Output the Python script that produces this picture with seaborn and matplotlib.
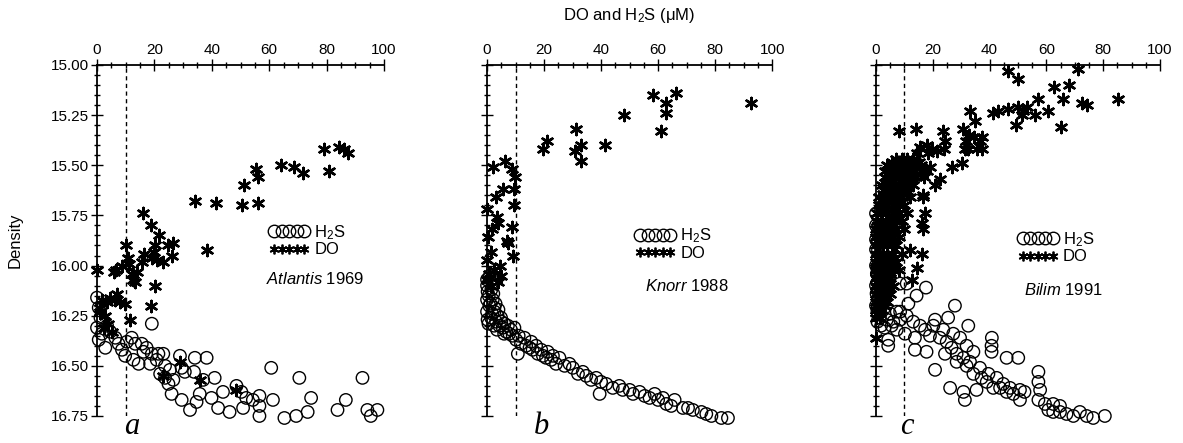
import matplotlib
matplotlib.use("Agg")
import matplotlib.pyplot as plt
from matplotlib.lines import Line2D
from matplotlib.ticker import MultipleLocator
import seaborn as sns

# ---- panel a: Atlantis 1969 ----
do_a_x = [79.2, 80.9, 84.4, 86.1, 87.3, 64.2, 68.8, 71.9, 55.3, 56.1,
          51.1, 50.5, 56.1, 41.6, 34.1, 38.2, 16.2, 18.7, 21.7, 26.6,
          24.9, 10.2, 20.2, 16.4, 19.9, 26.0, 19.1, 23.1, 20.8, 15.6,
          10.8, 11.0, 8.7, 6.7, 5.8, 0.0, 12.1, 13.9, 12.7, 13.3,
          20.2, 6.9, 4.6, 1.7, 3.5, 9.8, 18.7, 1.2, 11.6, 6.4,
          8.1, 2.9, 4.0, 2.3, 5.2, 1.2, 28.9, 48.6, 23.1, 35.8]
do_a_y = [15.42, 15.53, 15.41, 15.42, 15.44, 15.50, 15.51, 15.54, 15.52, 15.56,
          15.60, 15.70, 15.69, 15.69, 15.68, 15.92, 15.74, 15.80, 15.85, 15.89,
          15.90, 15.90, 15.90, 15.94, 15.93, 15.95, 15.96, 15.98, 15.97, 15.98,
          15.96, 15.99, 16.00, 16.02, 16.03, 16.02, 16.04, 16.03, 16.07, 16.08,
          16.10, 16.14, 16.16, 16.17, 16.18, 16.19, 16.20, 16.21, 16.27, 16.17,
          16.18, 16.25, 16.29, 16.31, 16.33, 16.23, 16.48, 16.62, 16.55, 16.57]
h2s_a_x = [0.0, 0.6, 1.2, 0.0, 1.7, 0.6, 2.9, 3.5, 4.6, 6.4,
           7.5, 8.7, 9.8, 10.4, 12.1, 13.3, 12.7, 14.5, 15.6, 17.3,
           19.1, 19.1, 20.8, 22.0, 23.7, 24.9, 23.1, 25.4, 26.6, 28.9,
           29.5, 30.6, 34.1, 38.2, 33.8, 37.0, 41.0, 35.8, 39.9, 26.0,
           29.5, 32.4, 34.7, 42.2, 46.2, 43.9, 48.6, 50.3, 52.0, 50.9,
           54.3, 56.6, 56.6, 56.6, 60.7, 61.3, 65.3, 69.4, 70.5, 73.4,
           74.6, 83.8, 86.7, 92.5, 94.2, 95.4, 97.7, 16.2, 18.5, 21.4,
           23.7]
h2s_a_y = [16.16, 16.21, 16.26, 16.31, 16.34, 16.37, 16.41, 16.30, 16.33, 16.36,
           16.39, 16.42, 16.45, 16.38, 16.36, 16.39, 16.47, 16.49, 16.39, 16.41,
           16.29, 16.44, 16.47, 16.54, 16.56, 16.59, 16.44, 16.52, 16.57, 16.45,
           16.51, 16.53, 16.46, 16.46, 16.53, 16.57, 16.56, 16.64, 16.66, 16.64,
           16.67, 16.72, 16.68, 16.71, 16.73, 16.63, 16.60, 16.63, 16.66, 16.71,
           16.67, 16.65, 16.70, 16.75, 16.51, 16.67, 16.76, 16.75, 16.56, 16.73,
           16.66, 16.72, 16.67, 16.56, 16.72, 16.75, 16.72, 16.43, 16.49, 16.44,
           16.50]

# ---- panel b: Knorr 1988 ----
do_b_x = [58.2, 66.2, 62.9, 62.9, 92.7, 48.2, 61.1, 31.3, 33.0, 30.7,
          32.8, 41.5, 21.1, 19.8, 6.3, 2.0, 8.8, 9.9, 5.5, 3.2,
          9.6, 9.6, 0.0, 3.5, 8.8, 1.8, 6.9, 0.2, 9.0, 1.4,
          0.0, 4.6, 2.6, 4.9, 0.8, 3.7, 0.0, 1.4, 3.9, 7.4]
do_b_y = [15.15, 15.14, 15.19, 15.24, 15.19, 15.25, 15.33, 15.32, 15.40, 15.43,
          15.48, 15.40, 15.38, 15.42, 15.48, 15.51, 15.52, 15.56, 15.62, 15.66,
          15.62, 15.70, 15.72, 15.76, 15.81, 15.82, 15.88, 15.86, 15.95, 15.93,
          15.97, 16.00, 16.02, 16.05, 16.04, 16.08, 16.07, 16.10, 15.79, 15.89]
h2s_b_x = [0.0, 0.0, 0.2, 0.0, 0.8, 0.0, 1.4, 0.2, 2.6, 3.2,
           4.3, 5.5, 6.7, 7.8, 9.0, 10.2, 10.8, 11.9, 13.7, 14.9,
           16.0, 17.8, 19.6, 20.7, 22.5, 24.2, 27.2, 31.9, 36.5, 40.0,
           39.5, 44.1, 47.6, 51.2, 55.3, 58.8, 60.0, 62.9, 65.8, 68.7,
           72.2, 75.2, 78.7, 82.2, 84.5, 0.6, 2.0, 2.6, 3.7, 4.9,
           6.1, 7.3, 8.4, 9.6, 11.1, 13.1, 15.5, 17.2, 19.0, 21.3,
           23.1, 25.4, 28.9, 30.1, 33.6, 34.8, 38.3, 41.8, 46.4, 50.0,
           53.5, 57.0, 61.7, 64.6, 70.5, 76.9, 1.0, 1.5, 2.2, 1.2,
           3.0, 1.8, 4.0, 5.0, 0.5, 2.5, 3.5, 6.0]
h2s_b_y = [16.07, 16.10, 16.13, 16.17, 16.20, 16.23, 16.26, 16.27, 16.23, 16.28,
           16.30, 16.31, 16.33, 16.34, 16.35, 16.37, 16.44, 16.39, 16.40, 16.41,
           16.42, 16.44, 16.45, 16.46, 16.47, 16.49, 16.50, 16.54, 16.57, 16.58,
           16.64, 16.61, 16.62, 16.64, 16.65, 16.64, 16.67, 16.69, 16.67, 16.71,
           16.72, 16.73, 16.75, 16.76, 16.76, 16.15, 16.17, 16.21, 16.25, 16.26,
           16.29, 16.30, 16.32, 16.31, 16.35, 16.36, 16.38, 16.40, 16.42, 16.43,
           16.45, 16.46, 16.49, 16.51, 16.53, 16.55, 16.56, 16.59, 16.60, 16.62,
           16.63, 16.66, 16.66, 16.70, 16.71, 16.74, 16.05, 16.12, 16.14, 16.19,
           16.19, 16.24, 16.22, 16.28, 16.29, 16.30, 16.32, 16.34]

# ---- panel c: Bilim 1991 ----
do_c_x = [46.6, 71.2, 50.1, 62.7, 68.1, 57.2, 66.0, 72.4, 74.2, 85.3,
          33.1, 41.3, 43.1, 46.6, 50.1, 51.9, 53.1, 51.4, 56.0, 60.7,
          65.1, 49.3, 34.9, 8.2, 14.1, 23.5, 30.5, 32.6, 34.4, 37.2,
          24.2, 31.7, 15.5, 17.8, 19.6, 21.4, 23.9, 18.4, 32.5, 35.4,
          37.2, 31.3, 14.3, 36.6, 30.2, 26.6, 15.5, 19.0, 22.5, 20.7,
          16.7, 17.3, 16.1, 12.0, 16.1, 14.6, 12.6, 0.0, 16.5, 16.5,
          7, 9, 11, 13,
          4, 6, 8, 10, 12, 14, 16,
          3, 5, 7, 9, 11, 13, 16, 18,
          3, 6, 8, 10, 12, 14, 17,
          2, 4, 6, 8, 10, 11, 13,
          3, 5, 7, 9, 11,
          1, 3, 5, 7, 9, 12,
          1, 2, 4, 6, 8, 10,
          0.5, 2, 4, 6, 8, 11,
          0.5, 2, 3.5, 5, 7, 9,
          0, 1.5, 3, 5, 7, 10,
          0, 1.5, 3, 4.5, 6, 8,
          0, 1, 2.5, 4, 5.5, 7,
          0, 1, 2.5, 4, 6, 9,
          0, 1, 2, 3.5, 5, 7,
          0, 1, 2.5, 4, 6, 8,
          0, 1, 2, 3.5, 5,
          0, 1, 2.5, 4, 6,
          0, 1.5, 3, 5,
          0, 1, 2.5, 4,
          0, 1, 2,
          0, 1.5,
          5.5, 8, 10.5, 12.5, 15,
          4.5, 6.5, 9.5, 12,
          2.5, 5, 7.5, 9.5,
          1.5, 3.5, 5.5, 7.5,
          0.8, 2.5, 4.5, 6.5,
          0.5, 2, 3.5, 5.5,
          0.2, 1.5, 3, 4.5, 6,
          0.5, 2, 3.5, 5, 6.5,
          0.3, 1.8, 3.2, 4.8,
          0.5, 2, 3.5, 5,
          0.3, 1.8, 3.2, 4.5,
          0.5, 2, 3.2,
          0.3, 1.5, 3]
do_c_y = [15.03, 15.02, 15.07, 15.11, 15.10, 15.17, 15.17, 15.19, 15.20, 15.17,
          15.23, 15.24, 15.23, 15.22, 15.21, 15.23, 15.21, 15.25, 15.25, 15.23,
          15.31, 15.30, 15.28, 15.33, 15.32, 15.33, 15.32, 15.35, 15.36, 15.36,
          15.38, 15.38, 15.41, 15.40, 15.42, 15.43, 15.42, 15.44, 15.42, 15.42,
          15.42, 15.42, 15.44, 15.38, 15.49, 15.51, 15.51, 15.51, 15.57, 15.60,
          15.65, 15.74, 15.79, 15.92, 15.94, 16.01, 16.07, 16.36, 15.66, 15.82,
          15.47, 15.47, 15.47, 15.47,
          15.50, 15.50, 15.50, 15.50, 15.50, 15.50, 15.50,
          15.53, 15.53, 15.53, 15.53, 15.53, 15.53, 15.53, 15.53,
          15.56, 15.56, 15.56, 15.56, 15.56, 15.56, 15.56,
          15.60, 15.60, 15.60, 15.60, 15.60, 15.60, 15.60,
          15.63, 15.63, 15.63, 15.63, 15.63,
          15.66, 15.66, 15.66, 15.66, 15.66, 15.66,
          15.70, 15.70, 15.70, 15.70, 15.70, 15.70,
          15.74, 15.74, 15.74, 15.74, 15.74, 15.74,
          15.78, 15.78, 15.78, 15.78, 15.78, 15.78,
          15.82, 15.82, 15.82, 15.82, 15.82, 15.82,
          15.86, 15.86, 15.86, 15.86, 15.86, 15.86,
          15.90, 15.90, 15.90, 15.90, 15.90, 15.90,
          15.94, 15.94, 15.94, 15.94, 15.94, 15.94,
          15.98, 15.98, 15.98, 15.98, 15.98, 15.98,
          16.02, 16.02, 16.02, 16.02, 16.02, 16.02,
          16.06, 16.06, 16.06, 16.06, 16.06,
          16.10, 16.10, 16.10, 16.10, 16.10,
          16.14, 16.14, 16.14, 16.14,
          16.18, 16.18, 16.18, 16.18,
          16.22, 16.22, 16.22,
          16.26, 16.26,
          15.485, 15.485, 15.485, 15.485, 15.485,
          15.58, 15.58, 15.58, 15.58,
          15.645, 15.645, 15.645, 15.645,
          15.72, 15.72, 15.72, 15.72,
          15.80, 15.80, 15.80, 15.80,
          15.84, 15.84, 15.84, 15.84,
          15.88, 15.88, 15.88, 15.88, 15.88,
          15.96, 15.96, 15.96, 15.96, 15.96,
          16.00, 16.00, 16.00, 16.00,
          16.04, 16.04, 16.04, 16.04,
          16.08, 16.08, 16.08, 16.08,
          16.12, 16.12, 16.12,
          16.20, 16.20, 16.20]
h2s_c_x = [0.0, 0.0, 4.3, 4.3, 8.5, 10.8, 17.6, 14.3, 11.4, 27.8,
           20.8, 25.4, 32.5, 20.2, 23.7, 27.2, 29.6, 31.9, 34.3, 40.8,
           40.7, 40.7, 46.0, 50.1, 20.8, 13.7, 17.8, 24.3, 28.4, 31.9,
           34.3, 37.2, 39.0, 41.3, 26.1, 30.8, 31.3, 35.4, 43.7, 46.0,
           48.4, 50.7, 52.3, 50.7, 57.2, 57.2, 57.8, 57.2, 59.5, 60.7,
           62.4, 64.8, 67.1, 69.5, 71.8, 74.2, 76.5, 80.6, 64.8, 62.4,
           8.5, 10.8, 13.1, 15.5, 17.3, 19.0, 22.5, 24.9, 26.6, 28.4,
           30.8, 33.1, 36.6, 39.6, 42.5, 44.8, 47.2, 13.7, 10.2, 7.3,
           0.0, 1.4, 0.2, 2.0, 1.4, 3.8, 6.1, 0.5, 2.6, 4.9,
           7.3, 8.5, 0.0, 0.0, 0.3, 0.0, 0.8, 0.0, 0.5, 1.8,
           3.0, 5.5]
h2s_c_y = [15.74, 15.87, 16.37, 16.40, 16.09, 16.09, 16.11, 16.15, 16.19, 16.20,
           16.27, 16.26, 16.30, 16.30, 16.32, 16.34, 16.36, 16.40, 16.43, 16.36,
           16.40, 16.43, 16.46, 16.46, 16.52, 16.42, 16.43, 16.44, 16.48, 16.50,
           16.54, 16.56, 16.58, 16.61, 16.61, 16.63, 16.67, 16.62, 16.61, 16.63,
           16.64, 16.62, 16.63, 16.67, 16.53, 16.58, 16.62, 16.67, 16.69, 16.72,
           16.73, 16.73, 16.74, 16.75, 16.73, 16.75, 16.76, 16.75, 16.70, 16.69,
           16.23, 16.25, 16.28, 16.30, 16.32, 16.35, 16.36, 16.38, 16.41, 16.44,
           16.46, 16.48, 16.51, 16.54, 16.56, 16.59, 16.61, 16.36, 16.34, 16.32,
           16.00, 16.05, 16.14, 16.18, 16.26, 16.27, 16.28, 16.23, 16.22, 16.24,
           16.23, 16.27, 15.80, 15.92, 16.04, 16.10, 16.17, 16.20, 16.28, 16.30,
           16.31, 16.30]

y_ticks = [15.00, 15.25, 15.50, 15.75, 16.00, 16.25, 16.50, 16.75]
x_ticks = [0, 20, 40, 60, 80, 100]
do_limit = 10

sns.set_style("ticks")
plt.rcParams["font.family"] = ["Liberation Sans", "DejaVu Sans"]
plt.rcParams["text.color"] = "black"
plt.rcParams["axes.labelcolor"] = "black"
plt.rcParams["xtick.color"] = "black"
plt.rcParams["ytick.color"] = "black"
plt.rcParams["axes.edgecolor"] = "black"
plt.rcParams["mathtext.fontset"] = "custom"
plt.rcParams["mathtext.rm"] = "Liberation Sans"
plt.rcParams["mathtext.it"] = "Liberation Sans:italic"

STAR = (6, 2, 0)


def draw_panel(ax, do_x, do_y, h2s_x, h2s_y, ship, year, letter, letter_x,
               leg_xy, ship_xy, show_ylabels):
    sns.scatterplot(x=h2s_x, y=h2s_y, ax=ax, marker="o", s=80,
                    facecolor="none", edgecolor="black", linewidth=1.0,
                    clip_on=False, zorder=3)
    sns.scatterplot(x=do_x, y=do_y, ax=ax, marker=STAR, s=65,
                    color="black", linewidth=1.8, clip_on=False, zorder=4)
    ax.axvline(do_limit, color="black", lw=1, ls=(0, (3, 2.5)), zorder=1)

    ax.set_xlim(0, 100)
    ax.set_ylim(16.75, 15.0)
    ax.xaxis.tick_top()
    ax.set_xticks(x_ticks)
    ax.xaxis.set_minor_locator(MultipleLocator(5))
    ax.set_yticks(y_ticks)
    ax.yaxis.set_minor_locator(MultipleLocator(0.05))
    ax.tick_params(which="major", direction="inout", length=8, width=1,
                   labelsize=11, pad=2)
    ax.tick_params(which="minor", direction="inout", length=5, width=1)
    ax.tick_params(axis="x", which="both", top=True, bottom=False)
    if show_ylabels:
        ax.set_yticklabels([f"{v:.2f}" for v in y_ticks])
    else:
        ax.set_yticklabels([])
    for side in ["right", "bottom"]:
        ax.spines[side].set_visible(False)
    for side in ["left", "top"]:
        ax.spines[side].set_linewidth(1.3)
    ax.set_xlabel("")
    ax.set_ylabel("")

    handles = [
        Line2D([], [], marker="o", ls="none", mfc="none", mec="black",
               ms=9, mew=1.0),
        Line2D([], [], marker=STAR, ls="none", color="black", ms=7, mew=1.3),
    ]
    ax.legend(handles, ["H$_2$S", "DO"], numpoints=5, frameon=False,
              fontsize=12, handlelength=2.4, handletextpad=0.3,
              labelspacing=0.05, loc="upper left", bbox_to_anchor=leg_xy,
              borderpad=0, borderaxespad=0)
    ax.text(ship_xy[0], ship_xy[1], rf"$\mathit{{{ship}}}$ {year}",
            transform=ax.transAxes, fontsize=12, ha="center", va="center")
    ax.text(letter_x, -0.03, letter, transform=ax.get_xaxis_transform(),
            fontsize=22, fontstyle="italic", family="Liberation Serif",
            ha="center", va="center")


fig = plt.figure(figsize=(11.83, 4.43), dpi=100)
ax_a = fig.add_axes([0.082, 0.061, 0.2426, 0.7923])
ax_b = fig.add_axes([0.4117, 0.061, 0.2410, 0.7923])
ax_c = fig.add_axes([0.7405, 0.061, 0.2400, 0.7923])

draw_panel(ax_a, do_a_x, do_a_y, h2s_a_x, h2s_a_y, "Atlantis", "1969", "a",
           12, (0.60, 0.55), (0.76, 0.39), True)
draw_panel(ax_b, do_b_x, do_b_y, h2s_b_x, h2s_b_y, "Knorr", "1988", "b",
           19, (0.52, 0.54), (0.70, 0.37), False)
draw_panel(ax_c, do_c_x, do_c_y, h2s_c_x, h2s_c_y, "Bilim", "1991", "c",
           11, (0.50, 0.53), (0.66, 0.36), False)

ax_a.set_ylabel("Density", fontsize=12, labelpad=20)
ax_b.set_xlabel("DO and H$_2$S (μM)", fontsize=12, labelpad=16)
ax_b.xaxis.set_label_position("top")

fig.savefig("out.png", dpi=100)
